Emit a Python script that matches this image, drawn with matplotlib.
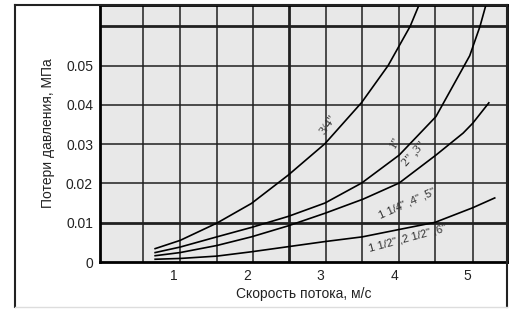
import matplotlib
matplotlib.use("Agg")
import matplotlib.pyplot as plt
from matplotlib.lines import Line2D

plt.rcParams['font.family'] = ['Liberation Sans', 'DejaVu Sans']

# Кривые потерь давления (скорость, м/с -> МПа)
v_34 = [0.75, 1.09, 1.59, 2.06, 2.56, 3.06, 3.56, 3.92, 4.22, 4.34]
p_34 = [0.0034, 0.0055, 0.0099, 0.0149, 0.0221, 0.0301, 0.0406, 0.0500, 0.0600, 0.0654]

v_1 = [0.75, 1.09, 1.59, 2.06, 2.56, 3.06, 3.56, 4.07, 4.57, 5.03, 5.17, 5.25]
p_1 = [0.0024, 0.0038, 0.0064, 0.0088, 0.0116, 0.0150, 0.0201, 0.0272, 0.0370, 0.0525, 0.0600, 0.0654]

v_23 = [0.75, 1.09, 1.59, 2.06, 2.56, 3.06, 3.58, 4.07, 4.57, 4.94, 5.07, 5.29]
p_23 = [0.0016, 0.0024, 0.0042, 0.0064, 0.0092, 0.0124, 0.0160, 0.0201, 0.0272, 0.0328, 0.0353, 0.0405]

v_low = [0.75, 1.09, 1.59, 2.06, 2.56, 3.06, 3.57, 4.05, 4.56, 5.07, 5.37]
p_low = [0.0007, 0.0009, 0.0015, 0.0026, 0.0039, 0.0052, 0.0064, 0.0082, 0.0101, 0.0138, 0.0163]

x_ticks = [1, 2, 3, 4, 5]
y_ticks = [0, 0.01, 0.02, 0.03, 0.04, 0.05]
y_labels = ["0", "0.01", "0.02", "0.03", "0.04", "0.05"]

grid_x = [0.585, 1.09, 1.59, 2.08, 2.57, 3.07, 3.57, 4.07, 4.56, 5.07]
grid_y = [0.01, 0.02, 0.03, 0.04, 0.05, 0.06]
thick_x = [2.57]
thick_y = [0.01, 0.06]

fig = plt.figure(figsize=(5.14, 3.09), dpi=100)
ax = fig.add_axes([100/514, 1 - 262/309, 407/514, 257/309])
ax.set_facecolor('#e8e8e8')
ax.set_xlim(0, 5.537)
ax.set_ylim(0, 0.0654)

for gx in grid_x:
    lw = 2.0 if gx in thick_x else 1.1
    ax.axvline(gx, color='#202020', lw=lw, zorder=1)
for gy in grid_y:
    lw = 2.0 if gy in thick_y else 1.1
    ax.axhline(gy, color='#202020', lw=lw, zorder=1)

for v, p in [(v_34, p_34), (v_1, p_1), (v_23, p_23), (v_low, p_low)]:
    ax.plot(v, p, color='black', lw=1.2, zorder=3, solid_joinstyle='round')

lab = dict(color='#303030', ha='center', va='center', zorder=4)
ax.text(3.10, 0.0350, '3/4"', rotation=55, fontsize=9, family='Liberation Serif', **lab)
ax.text(4.01, 0.0305, '1"', rotation=60, fontsize=9, family='Liberation Serif', **lab)
ax.text(4.27, 0.0275, '2" ,3"', rotation=48, fontsize=9, family='Liberation Serif', **lab)
ax.text(4.18, 0.0148, '1 1/4" ,4" ,5"', rotation=24, fontsize=8, **lab)
ax.text(4.18, 0.0061, '1 1/2" ,2 1/2" ,6"', rotation=15, fontsize=8, **lab)

ax.set_xticks(x_ticks)
ax.set_yticks(y_ticks)
ax.set_yticklabels(y_labels)
ax.tick_params(length=0, labelsize=10, colors='#222222', pad=5)
ax.set_xlabel('Скорость потока, м/с', fontsize=10, color='#222222', labelpad=3)
ax.set_ylabel('Потери давления, МПа', fontsize=10, color='#222222', labelpad=8)

for s in ax.spines.values():
    s.set_color('black')
    s.set_linewidth(2.0)

# внешняя рамка
fx0, fx1 = 15/514, 507/514
fy0, fy1 = 1 - 307/309, 1 - 5/309
fig.add_artist(Line2D([fx0, fx0], [fy0, fy1], color='#222222', lw=1.5))
fig.add_artist(Line2D([fx0, fx1], [fy1, fy1], color='#222222', lw=1.5))
fig.add_artist(Line2D([fx1, fx1], [fy0, fy1], color='#222222', lw=1.5))
fig.add_artist(Line2D([fx0, fx1], [fy0, fy0], color='#dddddd', lw=1.0))

fig.savefig('out.png', dpi=100)
